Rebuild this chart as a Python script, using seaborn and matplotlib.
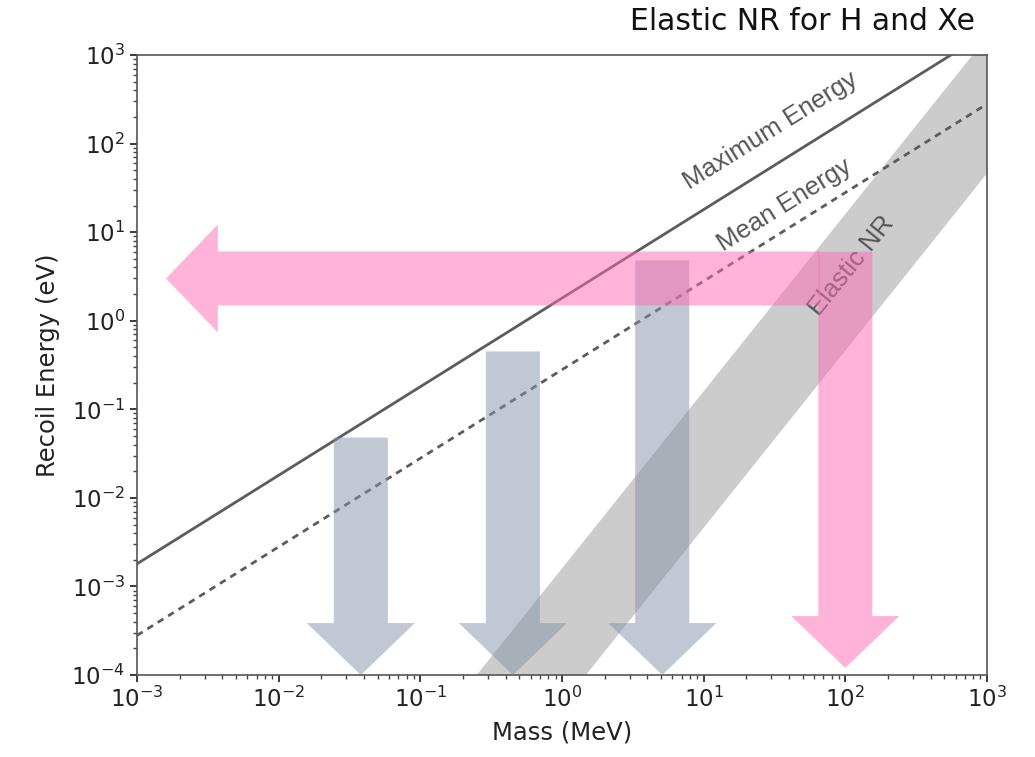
import numpy as np
import pandas as pd
import matplotlib
matplotlib.use("Agg")
import matplotlib.pyplot as plt
import seaborn as sns

# Kinematic limits of the recoil energy versus dark-matter mass
line_mass = [1e-3, 1e3]
max_energy = [1.8e-3, 1.8e3]
mean_energy = [2.8e-4, 2.8e2]

# Elastic nuclear-recoil band (H upper edge, Xe lower edge)
nr_mass = [0.1, 0.25, 1.0, 10.0, 100.0, 1000.0, 3000.0]
nr_upper = [1.6e-5, 1.0e-4, 1.6e-3, 0.16, 16.0, 1600.0, 14400.0]
nr_lower = [4.6e-7, 2.9e-6, 4.6e-5, 4.6e-3, 0.46, 46.0, 414.0]

# Downward arrows: mass, starting energy, end energy
probe_mass = [0.038, 0.45, 5.1]
probe_top = [0.048, 0.45, 4.8]
probe_bottom = [1e-4, 1e-4, 1e-4]

# Pink arrows: vertical one at 100 MeV, horizontal one toward low mass
pink_mass = 100.0
pink_top = 6.0
pink_bottom = 1.2e-4
pink_h_energy = 3.0
pink_h_start = 66.0
pink_h_end = 1.6e-3

sns.set_theme(style="ticks")
plt.rcParams["font.family"] = ["DejaVu Sans"]

fig = plt.figure(figsize=(10.35, 7.57), dpi=100)
ax = fig.add_axes([0.1324, 0.1083, 0.8212, 0.819])

ax.set_xscale("log")
ax.set_yscale("log")
ax.set_xlim(1e-3, 1e3)
ax.set_ylim(1e-4, 1e3)

# Elastic NR band
ax.fill_between(nr_mass, nr_lower, nr_upper, color="#9a9a9a", alpha=0.5,
                linewidth=0, zorder=1)

lines = pd.DataFrame({
    "mass": line_mass * 2,
    "energy": max_energy + mean_energy,
    "kind": ["Maximum"] * 2 + ["Mean"] * 2,
})
sns.lineplot(data=lines[lines.kind == "Maximum"], x="mass", y="energy",
             color="#5c5c5c", linewidth=2.0, ax=ax, zorder=3)
sns.lineplot(data=lines[lines.kind == "Mean"], x="mass", y="energy",
             color="#5c5c5c", linewidth=2.0, linestyle=(0, (2.4, 2.0)),
             ax=ax, zorder=3)

pt = 72.0 / fig.dpi  # pixels -> points
def big_arrow(x0, y0, x1, y1, color, alpha):
    style = ("simple,head_length={:.1f},head_width={:.1f},tail_width={:.1f}"
             .format(52 * pt, 108 * pt, 54 * pt))
    ax.annotate("", xy=(x1, y1), xytext=(x0, y0),
                arrowprops=dict(arrowstyle=style, mutation_scale=1,
                                color=color, alpha=alpha, linewidth=0,
                                shrinkA=0, shrinkB=0),
                annotation_clip=False, zorder=4)

for m, top, bot in zip(probe_mass, probe_top, probe_bottom):
    big_arrow(m, top, m, bot, "#8593a8", 0.5)

big_arrow(pink_h_start, pink_h_energy, pink_h_end, pink_h_energy, "#ff69b4", 0.5)
big_arrow(pink_mass, pink_top, pink_mass, pink_bottom, "#ff69b4", 0.5)

# Curve labels
label_font = ["Liberation Sans", "DejaVu Sans"]
ax.text(29.5, 140, "Maximum Energy", rotation=32, rotation_mode="anchor",
        ha="center", va="center", fontsize=18.5, color="#555555",
        family=label_font, zorder=5)
ax.text(37, 20.0, "Mean Energy", rotation=32, rotation_mode="anchor",
        ha="center", va="center", fontsize=18.5, color="#555555",
        family=label_font, zorder=5)
ax.text(110, 4.2, "Elastic NR", rotation=51, rotation_mode="anchor",
        ha="center", va="center", fontsize=18.5, color="#555555",
        family=label_font, zorder=2)

ax.set_xlabel("Mass (MeV)", fontsize=17.5, color="#222222", labelpad=6)
ax.set_ylabel("Recoil Energy (eV)", fontsize=17.5, color="#222222", labelpad=8)
ax.tick_params(axis="both", which="major", labelsize=16.5, length=5,
               colors="#222222")
ax.tick_params(axis="both", which="minor", length=3, colors="#444444")
for s in ax.spines.values():
    s.set_visible(True)
    s.set_color("#555555")
    s.set_linewidth(1.2)

fig.text(0.942, 0.972, "Elastic NR for H and Xe", ha="right", va="center",
         fontsize=21.5, color="#111111")

fig.savefig("out.png", dpi=100)
